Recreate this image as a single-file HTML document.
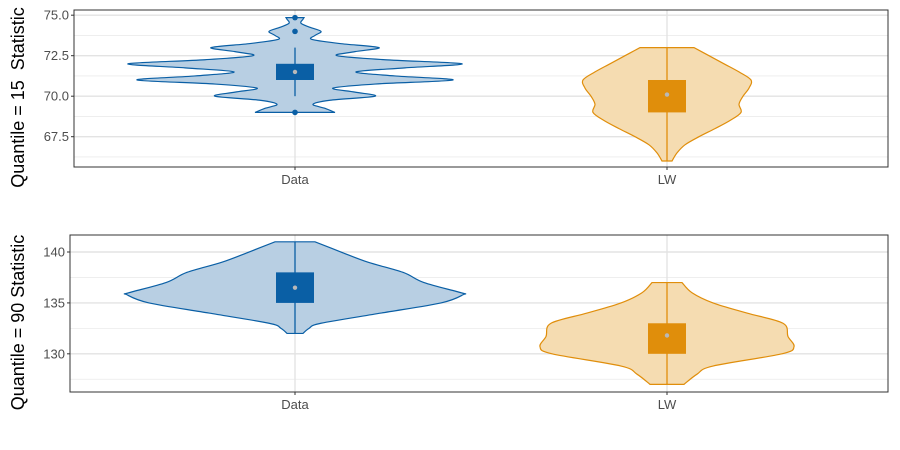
<!DOCTYPE html>
<html><head><meta charset="utf-8"><style>
body{margin:0;background:#fff}
svg{display:block;font-family:"Liberation Sans",Arial,sans-serif}
</style></head><body>
<svg id="chart" width="900" height="450"></svg>
<script>
const categories=["Data","LW"];
const topTicks=[67.5,70,72.5,75];
const topTickLabels=["67.5","70.0","72.5","75.0"];
const botTicks=[130,135,140];
const botTickLabels=["130","135","140"];
// violin profiles: [value, half-width]
const topDataViolin=[[69,40],[69.25,30],[69.5,18],[69.75,35],[70,80],[70.25,60],[70.5,38],[70.75,80],[71,158],[71.25,100],[71.5,61],[71.75,110],[72,167],[72.25,90],[72.5,42],[72.75,60],[73,84],[73.25,45],[73.5,17],[73.75,20],[74,26],[74.25,15],[74.5,6],[74.75,8],[74.85,9]];
const topLWViolin=[[66,5],[66.5,10],[67,18],[67.5,32],[68,48],[68.5,63],[69,74],[69.5,72],[70,76],[70.5,82],[71,84],[71.5,72],[72,57],[72.5,42],[73,27]];
const botDataViolin=[[132,8],[132.5,14],[133,26],[134,86],[135,146],[135.8,168],[136,166],[137,129],[138,108],[139,73],[140,46],[141,20]];
const botLWViolin=[[127,17],[128,30],[128.8,46],[130,115],[130.7,127],[131.7,121],[133,116],[134,80],[135,46],[136,25],[137,15]];
const topDataBox={q1:71,q3:72,lo:70,hi:73,mean:71.5,out:[69,74,74.85]};
const topLWBox={q1:69,q3:71,lo:66,hi:73,mean:70.1,out:[]};
const botDataBox={q1:135,q3:138,lo:132,hi:141,mean:136.5,out:[]};
const botLWBox={q1:130,q3:133,lo:127,hi:137,mean:131.8,out:[]};

const NS="http://www.w3.org/2000/svg";
const svg=document.getElementById("chart");
function mk(tag,attrs,parent){const e=document.createElementNS(NS,tag);for(const k in attrs)e.setAttribute(k,attrs[k]);(parent||svg).appendChild(e);return e;}
const catX=[295,667];
const colors=[{s:"#0a5fa5",f:"#b8cfe3"},{s:"#e08e0b",f:"#f5dcb1"}];

function spline(pts){
  let d="M"+pts[0][0]+","+pts[0][1];
  for(let i=0;i<pts.length-1;i++){
    const p0=pts[Math.max(i-1,0)],p1=pts[i],p2=pts[i+1],p3=pts[Math.min(i+2,pts.length-1)];
    const c1=[p1[0]+(p2[0]-p0[0])/6,p1[1]+(p2[1]-p0[1])/6];
    const c2=[p2[0]-(p3[0]-p1[0])/6,p2[1]-(p3[1]-p1[1])/6];
    d+=" C"+c1[0]+","+c1[1]+" "+c2[0]+","+c2[1]+" "+p2[0]+","+p2[1];
  }
  return d;
}

function panel(name,x0,x1,y0,y1,vmin,vmax,ticks,labels,minors,title,violins,boxes){
  const y=v=>y1-(v-vmin)/(vmax-vmin)*(y1-y0);
  const g=mk("g",{});
  
  
  minors.forEach(v=>mk("line",{x1:x0,x2:x1,y1:y(v),y2:y(v),stroke:"#ebebeb","stroke-width":0.8},g));
  ticks.forEach(v=>mk("line",{x1:x0,x2:x1,y1:y(v),y2:y(v),stroke:"#e3e3e3","stroke-width":1.4},g));
  catX.forEach(cx=>mk("line",{x1:cx,x2:cx,y1:y0,y2:y1,stroke:"#e3e3e3","stroke-width":1.4},g));
  violins.forEach((vp,i)=>{
    const cx=catX[i];
    const right=vp.map(p=>[cx+p[1],y(p[0])]);
    const left=vp.slice().reverse().map(p=>[cx-p[1],y(p[0])]);
    const sl=spline(left);
    const d=spline(right)+" L"+left[0][0]+","+left[0][1]+sl.slice(sl.indexOf(" C"))+" Z";
    const p=mk("path",{d:d,fill:colors[i].f,stroke:colors[i].s,"stroke-width":1.2},g);
    
    
  });
  boxes.forEach((b,i)=>{
    const cx=catX[i];
    mk("line",{x1:cx,x2:cx,y1:y(b.lo),y2:y(b.hi),stroke:colors[i].s,"stroke-width":1.3},g);
    const r=mk("rect",{x:cx-19,y:y(b.q3),width:38,height:y(b.q1)-y(b.q3),fill:colors[i].s},g);
    
    
    mk("circle",{cx:cx,cy:y(b.mean),r:2.2,fill:"#b8b8b8"},g);
    b.out.forEach(v=>{
      const c=mk("circle",{cx:cx,cy:y(v),r:2.8,fill:colors[i].s},g);
      
      
    });
  });
  mk("rect",{x:x0,y:y0,width:x1-x0,height:y1-y0,fill:"none",stroke:"#333","stroke-width":1},g);
  ticks.forEach((v,i)=>{
    mk("line",{x1:x0-3,x2:x0,y1:y(v),y2:y(v),stroke:"#333"},g);
    const t=mk("text",{x:x0-5,y:y(v)+4.5,"text-anchor":"end","font-size":13,fill:"#4d4d4d"},g);
    t.textContent=labels[i];
    
    
  });
  categories.forEach((c,i)=>{
    mk("line",{x1:catX[i],x2:catX[i],y1:y1,y2:y1+3,stroke:"#333"},g);
    const t=mk("text",{x:catX[i],y:y1+17,"text-anchor":"middle","font-size":13,fill:"#4d4d4d"},g);
    t.textContent=c;
    
    
  });
  const ym=(y0+y1)/2+9;
  const tt=mk("text",{x:24,y:ym,"text-anchor":"middle","font-size":18,fill:"#000",transform:"rotate(-90 24 "+ym+")"},g);
  tt.textContent=title;
  
  
}
panel("top-panel",74,888,10,167,65.63,75.32,topTicks,topTickLabels,[66.25,68.75,71.25,73.75],"Quantile = 15\u00a0\u00a0Statistic",[topDataViolin,topLWViolin],[topDataBox,topLWBox]);
panel("bottom-panel",70,888,235,392,126.25,141.67,botTicks,botTickLabels,[127.5,132.5,137.5],"Quantile = 90 Statistic",[botDataViolin,botLWViolin],[botDataBox,botLWBox]);
</script>
</body></html>
